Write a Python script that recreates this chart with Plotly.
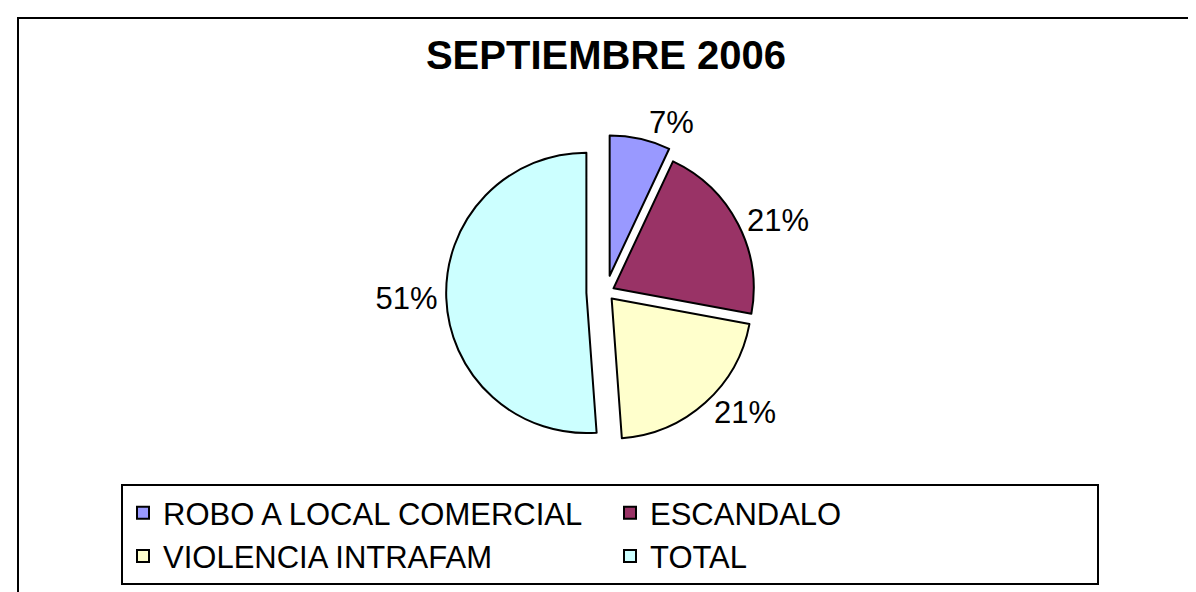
import plotly.graph_objects as go

categories = ["ROBO A LOCAL COMERCIAL", "ESCANDALO", "VIOLENCIA INTRAFAM", "TOTAL"]
values = [3, 9, 9, 22]
colors = ["#9999FF", "#993366", "#FFFFCC", "#CCFFFF"]
pulls = [0.12, 0.06, 0.06, 0.14]
title_text = "SEPTIEMBRE 2006"

W, H = 1196, 592
FONT = "Liberation Sans, Arial"

fig = go.Figure(go.Pie(
    labels=categories,
    values=values,
    sort=False,
    direction="clockwise",
    rotation=0,
    pull=pulls,
    marker=dict(colors=colors, line=dict(color="black", width=2)),
    texttemplate="%{percent:.0%}",
    textposition="outside",
    textfont=dict(family=FONT, size=31, color="black"),
    domain=dict(x=[0.28, 0.72], y=[0.25, 0.79]),
    showlegend=True,
))

fig.update_layout(
    width=W, height=H,
    margin=dict(l=0, r=0, t=0, b=0),
    paper_bgcolor="white",
    plot_bgcolor="white",
    font=dict(family=FONT, color="black"),
    title=dict(text="<b>" + title_text + "</b>", x=0.5, xanchor="center",
               y=1 - 47 / H, yanchor="middle",
               font=dict(size=40, color="black", family=FONT)),
    legend=dict(
        orientation="h",
        x=113 / W, xanchor="left",
        y=1 - 476 / H, yanchor="top",
        entrywidth=442,
        bordercolor="black", borderwidth=2,
        bgcolor="white",
        font=dict(size=31, color="black", family=FONT),
        traceorder="normal",
    ),
    shapes=[dict(type="rect", xref="paper", yref="paper",
                 x0=10 / W, x1=1.05, y0=-0.05, y1=1 - 10 / H,
                 line=dict(color="black", width=2), layer="below")],
)

fig.write_html("out.html")
